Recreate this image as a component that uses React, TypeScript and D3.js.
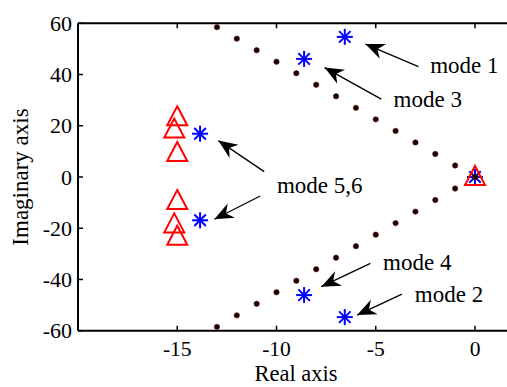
import * as d3 from "d3";

// root locus branch points (real, imag)
const locusRe = [-13, -12, -11, -10, -9, -8, -7, -6, -5, -4, -3, -2, -1, 0];
const locusIm = [58.5, 54, 49.5, 45, 40.5, 36, 31.5, 27, 22.5, 18, 13.5, 9, 4.5, 0];

// closed loop modes (blue asterisks)
const modeRe = [-6.56, -6.56, -8.61, -8.61, -13.85, -13.85, 0];
const modeIm = [54.7, -54.7, 46.1, -46.1, 16.9, -16.9, 0];

// open loop poles (red triangles)
const poleRe = [-15, -15.15, -15, -15, -15.15, -15, 0];
const poleIm = [23.3, 18.5, 9.4, -9.4, -18.5, -23.3, 0];

const xTicks = [-15, -10, -5, 0];
const yTicks = [-60, -40, -20, 0, 20, 40, 60];

// annotations: label anchor, arrow tail and tip, all in data units
const labels = ["mode 1", "mode 3", "mode 5,6", "mode 4", "mode 2"];
const labelPos = [[-2.26, 40.7], [-4.1, 27.4], [-9.98, -6.2], [-4.63, -36.3], [-3.03, -48.7]];
const arrowTail = [[-2.85, 43.1], [-4.72, 30.4], [-10.62, 2.1], [-10.82, -7.4], [-5.27, -33.7], [-3.68, -45.7]];
const arrowTip = [[-5.52, 51.9], [-7.58, 42.7], [-12.93, 14.2], [-13.13, -16.5], [-7.74, -42.8], [-5.94, -53.9]];

export default function App() {
  const width = 507;
  const height = 387;
  const marginLeft = 78;
  const marginTop = 23.3;
  const marginBottom = 56.3;

  const x = d3.scaleLinear().domain([-20, 2]).range([marginLeft, marginLeft + 22 * 19.85]);
  const y = d3.scaleLinear().domain([-60, 60]).range([height - marginBottom, marginTop]);

  const x0 = x(-20);
  const x1 = x(2);
  const yTop = y(60);
  const yBot = y(-60);
  const font = "Liberation Serif";

  const dots = locusRe.flatMap((re, i) => [
    { re, im: locusIm[i] },
    { re, im: -locusIm[i] },
  ]);

  const star = (cx: number, cy: number, key: number) => {
    const r = 8;
    const d = r * 0.72;
    return (
      <g key={key} stroke="#0000ff" strokeWidth={2}>
        <line x1={cx - r} x2={cx + r} y1={cy} y2={cy} />
        <line x1={cx} x2={cx} y1={cy - r} y2={cy + r} />
        <line x1={cx - d} x2={cx + d} y1={cy - d} y2={cy + d} />
        <line x1={cx - d} x2={cx + d} y1={cy + d} y2={cy - d} />
      </g>
    );
  };

  const arrowHead = (tx: number, ty: number, sx: number, sy: number) => {
    const ang = Math.atan2(ty - sy, tx - sx);
    const L = 19;
    const W = 8;
    const N = 13;
    const c = Math.cos(ang);
    const s = Math.sin(ang);
    const p = (a: number, b: number) => `${tx - a * c - b * s},${ty - a * s + b * c}`;
    return `M${tx},${ty}L${p(L, W)}L${p(N, 0)}L${p(L, -W)}Z`;
  };

  const txt = { fontFamily: font };

  return (
    <svg
      width={width}
      height={height}
      style={{ position: "fixed", left: 0, top: 0, background: "#fff" }}
    >
      <rect width={width} height={height} fill="#fff" />

      {/* axes box */}
      <g stroke="#000" strokeWidth={2} fill="none">
        <line x1={x0} x2={x1} y1={yTop} y2={yTop} />
        <line x1={x0} x2={x1} y1={yBot} y2={yBot} />
        <line x1={x0} x2={x0} y1={yTop} y2={yBot} />
        <line x1={x1} x2={x1} y1={yTop} y2={yBot} />
      </g>

      {xTicks.map((t) => (
        <g key={t}>
          <line x1={x(t)} x2={x(t)} y1={yTop} y2={yTop + 5} stroke="#000" strokeWidth={1.5} />
          <line x1={x(t)} x2={x(t)} y1={yBot} y2={yBot - 5} stroke="#000" strokeWidth={1.5} />
          <text x={x(t)} y={356} textAnchor="middle" fontSize={21.5} style={txt}>
            {t}
          </text>
        </g>
      ))}

      {yTicks.map((t) => (
        <g key={t}>
          <line x1={x0} x2={x0 + 5} y1={y(t)} y2={y(t)} stroke="#000" strokeWidth={1.5} />
          <text x={x0 - 6} y={y(t)} dy="0.35em" textAnchor="end" fontSize={22} style={txt}>
            {t}
          </text>
        </g>
      ))}

      <text x={296} y={380.5} textAnchor="middle" fontSize={22.5} style={txt}>
        Real axis
      </text>
      <text
        transform={`translate(28, ${y(0)}) rotate(-90)`}
        textAnchor="middle"
        fontSize={23}
        style={txt}
      >
        Imaginary axis
      </text>

      {/* modes */}
      {modeRe.map((re, i) => star(x(re), y(modeIm[i]), i))}

      {/* open loop poles */}
      {poleRe.map((re, i) => {
        const cx = x(re);
        const cy = y(poleIm[i]);
        return (
          <path
            key={i}
            d={`M${cx},${cy - 11}L${cx + 10},${cy + 8}L${cx - 10},${cy + 8}Z`}
            fill="none"
            stroke="#ff0000"
            strokeWidth={2}
            strokeLinejoin="miter"
          />
        );
      })}

      {/* root locus */}
      {dots.map((d, i) => (
        <circle
          key={i}
          cx={x(d.re)}
          cy={y(d.im)}
          r={2.7}
          fill="#140000"
          stroke="#6b1a1a"
          strokeWidth={0.6}
        />
      ))}

      {/* annotations */}
      {arrowTail.map((t, i) => {
        const sx = x(t[0]);
        const sy = y(t[1]);
        const tx = x(arrowTip[i][0]);
        const ty = y(arrowTip[i][1]);
        return (
          <g key={i}>
            <line x1={sx} y1={sy} x2={tx} y2={ty} stroke="#000" strokeWidth={1.3} />
            <path d={arrowHead(tx, ty, sx, sy)} fill="#000" />
          </g>
        );
      })}
      {labels.map((l, i) => (
        <text key={l} x={x(labelPos[i][0])} y={y(labelPos[i][1])} fontSize={23} style={txt}>
          {l}
        </text>
      ))}
    </svg>
  );
}
